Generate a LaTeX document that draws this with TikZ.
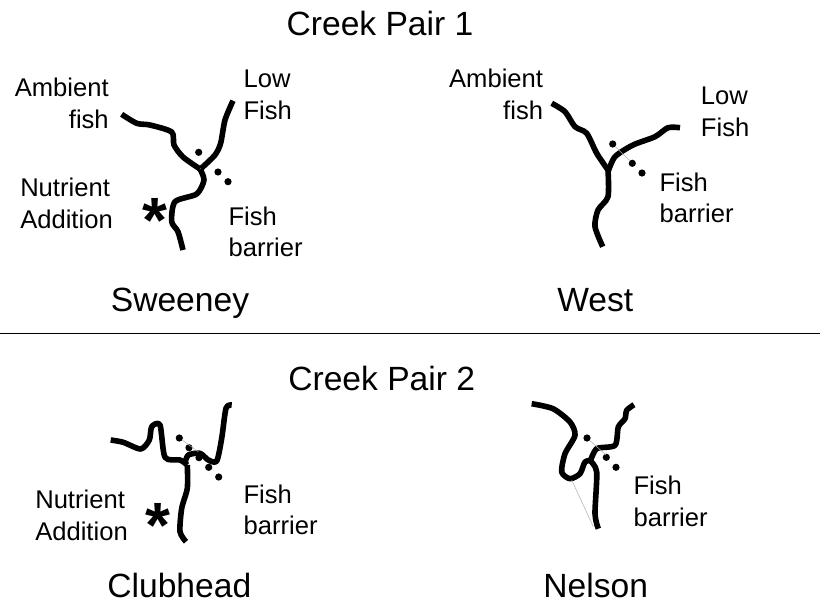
\documentclass[tikz,border=0pt]{standalone}
\usepackage{fontspec}
\setmainfont{Liberation Sans}
\usepackage{tikz}
\usetikzlibrary{positioning}
\newcommand{\creek}[1]{\draw[creekline] plot[smooth,tension=0.45] coordinates {#1};}
\begin{document}
\begin{tikzpicture}[x=0.75pt,y=-0.75pt,
  creekline/.style={line width=4.2pt,line cap=butt,line join=round},
  rock/.style={circle,fill=black,inner sep=0pt,minimum size=5.4pt},
  thin link/.style={draw=black!30,line width=0.4pt},
  title/.style={font=\fontsize{25.2}{30}\selectfont,anchor=base,inner sep=0pt},
  site/.style={font=\fontsize{25.2}{30}\selectfont,anchor=base,inner sep=0pt},
  lbl/.style={font=\fontsize{19.2}{23.5}\selectfont,align=left,anchor=base west,inner sep=0pt},
  lblr/.style={font=\fontsize{19.2}{23.5}\selectfont,align=right,anchor=base east,inner sep=0pt},
  mark star/.style={font=\bfseries\fontsize{48}{48}\selectfont,anchor=base,inner sep=0pt}]
  \useasboundingbox (0,0) rectangle (820,607);
  % headings and divider
  \node[title] (pair1) at (380,35) {Creek Pair 1};
  \node[title] (pair2) at (381.7,390.3) {Creek Pair 2};
  \coordinate (ruleL) at (0,333);
  \coordinate (ruleR) at (820,333);
  \draw[line width=0.6pt] (ruleL) -- (ruleR);
  % Sweeney
  \creek{(121.7,114.3) (136.7,123.3) (150,125) (171.7,132) (174,145) (183,157) (200,169)}
  \creek{(233,100.7) (225,120) (220.7,143) (215,155) (201,168.5)}
  \creek{(200,169) (204,180) (196.7,194) (175,201.7) (171.7,221.7) (178,231.7) (183,250)}
  \node[rock] (s1) at (198.7,152.3) {};
  \node[rock] (s2) at (218,172) {};
  \node[rock] (s3) at (228,181.7) {};
  \node[mark star] (sstar) at (155,242) {*};
  \node[lblr] (sambient) at (109,128.3) {Ambient\\fish};
  \node[lbl] (slow) at (243.3,119.3) {Low\\Fish};
  \node[lbl] (snutr) at (20,228.3) {Nutrient\\Addition};
  \node[lbl] (sbarrier) at (228.3,256.7) {Fish\\barrier};
  \node[site] (sweeney) at (180,311.7) {Sweeney};
  % West
  \creek{(551.7,103.3) (565,111.7) (575,126.7) (586.7,133.3) (596.7,153.3) (608,170)}
  \creek{(680,127.7) (668,127.7) (655,136.7) (633,145) (615,156.7) (608,172)}
  \creek{(608,170) (608,196.7) (598,210) (595,226.7) (602.7,246.7)}
  \node[rock] (w1) at (612.7,144) {};
  \node[rock] (w2) at (632.3,163.3) {};
  \node[rock] (w3) at (642,173) {};
  \draw[thin link] (w1) -- (w2);
  \node[lblr] (wambient) at (543.3,119.3) {Ambient\\fish};
  \node[lbl] (wlow) at (700.7,136) {Low\\Fish};
  \node[lbl] (wbarrier) at (659.3,222.7) {Fish\\barrier};
  \node[site] (west) at (595.3,311.7) {West};
  % Clubhead
  \creek{(110.7,440) (123.3,442.3) (140.7,449) (149.3,440) (151.7,426.7) (160,425) (165,457.3) (180,460) (187.3,465)}
  \creek{(231.7,405) (226,408.3) (221.7,438.3) (216.7,461) (208.3,460) (200,453.3) (188.3,455) (185,463)}
  \creek{(187.3,465) (187.3,488.3) (181.7,508.3) (180,531.7) (186,541.7)}
  \coordinate (ctop) at (198.3,451.7);
  \node[rock] (c1) at (179.3,438) {};
  \node[rock] (c2) at (189,447.7) {};
  \node[rock] (c3) at (199,457.7) {};
  \node[rock] (c4) at (208.7,467.3) {};
  \node[rock] (c5) at (218.7,477) {};
  \draw[thin link] (c1) -- (ctop);
  \node[mark star] (cstar) at (158.3,547) {*};
  \node[lbl] (cnutr) at (35,540.3) {Nutrient\\Addition};
  \node[lbl] (cbarrier) at (243.3,534.7) {Fish\\barrier};
  \node[site] (clubhead) at (179.3,597.7) {Clubhead};
  % Nelson
  \creek{(531.7,403.7) (553,408.7) (570,422) (575,435.3) (565,453.7) (561.7,472) (570,478.7) (580,473.7) (585,462) (591.7,460.3)}
  \creek{(634,404.7) (626.7,410.3) (625,418.7) (618.3,427) (615,445.3) (596.7,448.7) (590,462)}
  \creek{(590,460.5) (596.7,472) (595,513.7) (598.3,528.7)}
  \coordinate (nmid) at (606,455);
  \coordinate (nloop) at (571.7,480);
  \coordinate (nend) at (593.3,526.7);
  \node[rock] (n1) at (587,438) {};
  \node[rock] (n2) at (606.3,457.3) {};
  \node[rock] (n3) at (616,467.3) {};
  \draw[thin link] (n1) -- (nmid);
  \draw[thin link] (nloop) -- (nend);
  \node[lbl] (nbarrier) at (633.3,526.3) {Fish\\barrier};
  \node[site] (nelson) at (595.7,597) {Nelson};
\end{tikzpicture}
\end{document}
